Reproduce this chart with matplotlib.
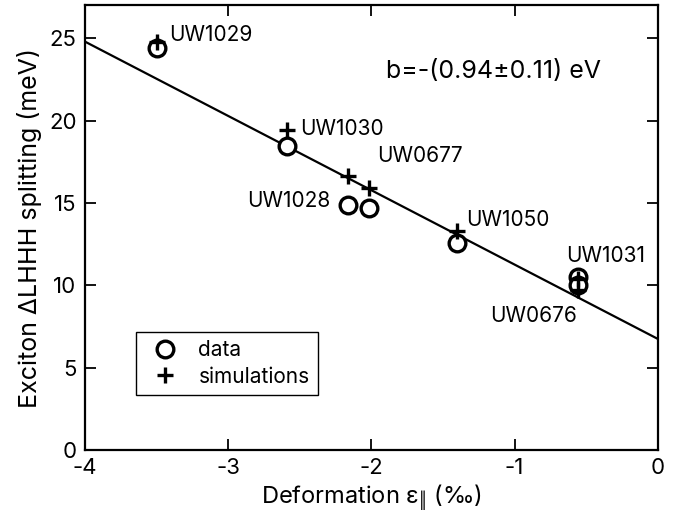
import matplotlib
matplotlib.use("Agg")
import matplotlib.pyplot as plt
import numpy as np

plt.rcParams['font.family'] = ['Inter', 'DejaVu Sans']
plt.rcParams['mathtext.fontset'] = 'custom'
plt.rcParams['mathtext.rm'] = 'Inter'
plt.rcParams['mathtext.it'] = 'Inter'

# sample names and strain (per mille)
samples = ['UW1029', 'UW1030', 'UW1028', 'UW0677', 'UW1050', 'UW1031', 'UW0676']
strain = [-3.50, -2.59, -2.16, -2.02, -1.40, -0.56, -0.56]
# measured LH-HH splitting (meV)
measured = [24.4, 18.45, 14.85, 14.7, 12.55, 10.5, 10.05]
# simulated splitting (meV)
simulated = [24.75, 19.45, 16.65, 15.9, 13.3, 10.4, 9.7]

# linear fit
fit_intercept = 6.75
fit_slope = -4.51

# label anchor points (data units)
label_pos = {
    'UW1029': (-3.41, 24.8, 'left'),
    'UW1030': (-2.50, 19.15, 'left'),
    'UW1028': (-2.29, 14.77, 'right'),
    'UW0677': (-1.96, 17.5, 'left'),
    'UW1050': (-1.34, 13.6, 'left'),
    'UW1031': (-0.64, 11.43, 'left'),
    'UW0676': (-0.565, 7.78, 'right'),
}

fig = plt.figure(figsize=(6.91, 5.21), dpi=100)
ax = fig.add_axes([0.123, 0.136, 0.829, 0.854])

xx = np.array([-4.0, 0.0])
ax.plot(xx, fit_intercept + fit_slope * xx, color='black', lw=1.6, zorder=1)

ax.plot(strain, measured, 'o', ms=12, mfc='white', mec='black', mew=2.4,
        label='data', zorder=2)
ax.plot(strain, simulated, '+', ms=12, mec='black', mew=2.4,
        label='simulations', zorder=3)

for s in samples:
    x, y, ha = label_pos[s]
    ax.text(x, y, s, fontsize=15, ha=ha, va='baseline')

ax.text(-1.90, 22.6, 'b=-(0.94\u00b10.11) eV', fontsize=18, va='baseline')

ax.set_xlim(-4, 0)
ax.set_ylim(0, 27)
ax.set_xticks([-4, -3, -2, -1, 0])
ax.set_xticklabels(['-4', '-3', '-2', '-1', '0'])
ax.set_yticks([0, 5, 10, 15, 20, 25])
ax.tick_params(direction='in', top=True, right=True, length=8, width=1.3,
               labelsize=16, pad=6)
for sp in ax.spines.values():
    sp.set_linewidth(1.6)

ax.set_xlabel(r'Deformation ε$_{\Vert}$ (‰)', fontsize=17, labelpad=3)
ax.set_ylabel('Exciton ΔLHHH splitting (meV)', fontsize=18, labelpad=5)

leg = ax.legend(loc='lower left', bbox_to_anchor=(0.089, 0.124), borderaxespad=0,
                fontsize=15, fancybox=False, edgecolor='black', framealpha=1,
                handletextpad=0.6, borderpad=0.4, labelspacing=0.3)
leg.get_frame().set_linewidth(1.0)

fig.savefig('out.png', dpi=100)
